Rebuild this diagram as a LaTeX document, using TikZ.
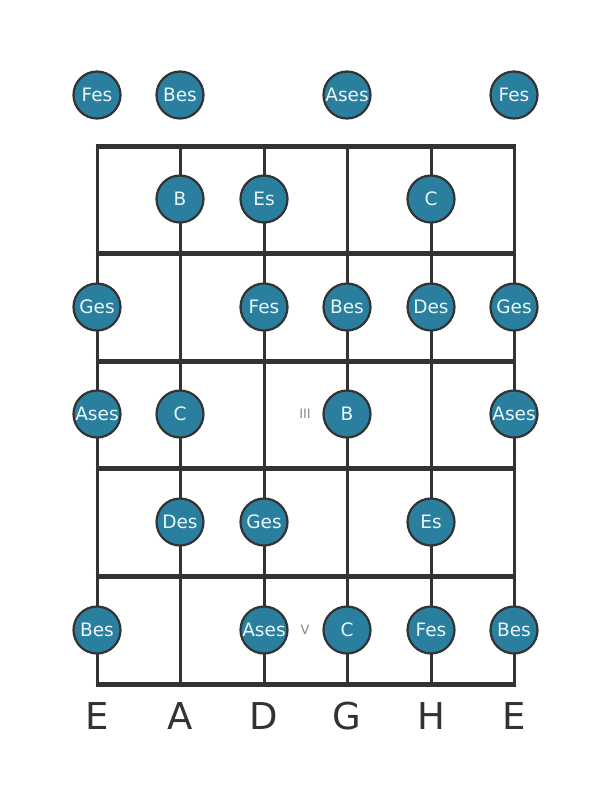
\documentclass[tikz,border=0pt]{standalone}
\usepackage{fontspec}
\setmainfont{DejaVu Sans}
\definecolor{notefill}{HTML}{2A7F9E}
\definecolor{notetext}{HTML}{EAF6FA}
\definecolor{linec}{HTML}{333333}
\definecolor{markc}{HTML}{888888}
\begin{document}
\begin{tikzpicture}[x=1pt,y=-1pt,
  note/.style={circle,draw=linec,line width=2.2pt,fill=notefill,minimum size=47pt,inner sep=0pt,text=notetext,font=\fontsize{18.5}{18.5}\selectfont},
  stringline/.style={linec,line width=3pt},
  fretline/.style={linec,line width=5pt},
  strlabel/.style={text=linec,font=\fontsize{37}{37}\selectfont},
  marker/.style={text=markc,font=\fontsize{13}{13}\selectfont}]
\useasboundingbox (0,0) rectangle (611,801);
% strings
\foreach \x/\n in {97/s1,180/s2,264/s3,347/s4,431/s5,514/s6}{
  \coordinate (\n t) at (\x,146);
  \coordinate (\n b) at (\x,684);
  \draw[stringline] (\n t) -- (\n b);
}
% frets
\foreach \y/\n in {146/f0,253/f1,361/f2,468/f3,576/f4,684/f5}{
  \coordinate (\n l) at (95.5,\y);
  \coordinate (\n r) at (515.5,\y);
  \draw[fretline] (\n l) -- (\n r);
}
% open notes
\node[note] (o1) at (97,95) {Fes};
\node[note] (o2) at (180,95) {Bes};
\node[note] (o4) at (347,95) {Ases};
\node[note] (o6) at (514,95) {Fes};
% fret 1
\node[note] (a2) at (180,199) {B};
\node[note] (a3) at (264,199) {Es};
\node[note] (a5) at (431,199) {C};
% fret 2
\node[note] (b1) at (97,307) {Ges};
\node[note] (b3) at (264,307) {Fes};
\node[note] (b4) at (347,307) {Bes};
\node[note] (b5) at (431,307) {Des};
\node[note] (b6) at (514,307) {Ges};
% fret 3
\node[note] (c1) at (97,414) {Ases};
\node[note] (c2) at (180,414) {C};
\node[note] (c4) at (347,414) {B};
\node[note] (c6) at (514,414) {Ases};
% fret 4
\node[note] (d2) at (180,522) {Des};
\node[note] (d3) at (264,522) {Ges};
\node[note] (d5) at (431,522) {Es};
% fret 5
\node[note] (e1) at (97,630) {Bes};
\node[note] (e3) at (264,630) {Ases};
\node[note] (e4) at (347,630) {C};
\node[note] (e5) at (431,630) {Fes};
\node[note] (e6) at (514,630) {Bes};
% markers
\node[marker] (m3) at (305,414) {III};
\node[marker] (m5) at (305,630) {V};
% string labels
\foreach \x/\l/\n in {97/E/l1,180/A/l2,264/D/l3,347/G/l4,431/H/l5,514/E/l6}{
  \node[strlabel] (\n) at (\x,716) {\l};
}
\end{tikzpicture}
\end{document}
